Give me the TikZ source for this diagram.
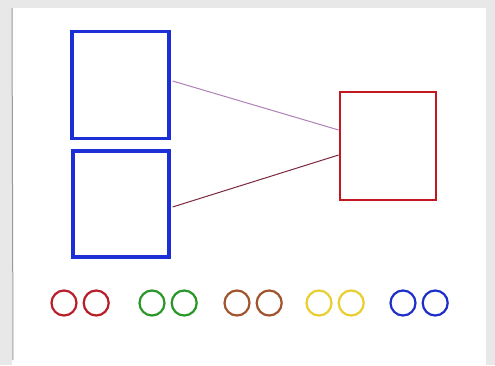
\documentclass[tikz,border=0pt]{standalone}
\usepackage{tikz}
\usetikzlibrary{positioning, calc}
\usepackage{xcolor}

\definecolor{boxblue}{RGB}{28,46,214}
\definecolor{boxred}{RGB}{196,24,32}
\definecolor{linklight}{RGB}{176,128,184}
\definecolor{linkdark}{RGB}{122,40,60}
\definecolor{ringred}{RGB}{184,30,40}
\definecolor{ringgreen}{RGB}{40,150,40}
\definecolor{ringbrown}{RGB}{160,84,44}
\definecolor{ringyellow}{RGB}{232,206,48}
\definecolor{ringblue}{RGB}{30,46,200}

\begin{document}
\begin{tikzpicture}[x=1pt, y=-1pt,
	slot/.style={draw, rectangle, inner sep=0pt, line width=3.2pt},
	ring/.style={draw, circle, inner sep=0pt, minimum size=25pt, line width=2.2pt}]
					\useasboundingbox (0, 0) rectangle (495, 365);
					% sheet
					\fill[gray!18] (0, 0) rectangle (495, 365);
					\fill[white] (12, 8) rectangle (486, 365);
					\draw[gray!80, line width=1pt] (12, 8) -- (13, 360);
					
					\node[slot, draw=boxblue, minimum width=97pt, minimum height=107pt] at (120.5, 85) (top) {};
					\node[slot, draw=boxblue, minimum width=96pt, minimum height=106pt] at (121, 204) (bottom) {};
					\node[slot, draw=boxred, line width=2.8pt, minimum width=96pt, minimum height=108pt] at (388, 146) (target) {};
					
					\draw[line width=1pt]
					([xshift=2pt, yshift=4pt]top.east) edge[-, linklight] ([yshift=16pt]target.west)
					([xshift=2pt, yshift=-3pt]bottom.east) edge[-, linkdark] ([yshift=-9pt]target.west);
					
					% pairs of rings
					\foreach \col/\x [count=\i] in {ringred/64, ringgreen/152, ringbrown/237, ringyellow/319, ringblue/403}
					{
						\node[ring, draw=\col] at (\x, 303) (a\i) {};
						\node[ring, draw=\col, right=5pt of a\i] (b\i) {};
					}
				\end{tikzpicture}
\end{document}
